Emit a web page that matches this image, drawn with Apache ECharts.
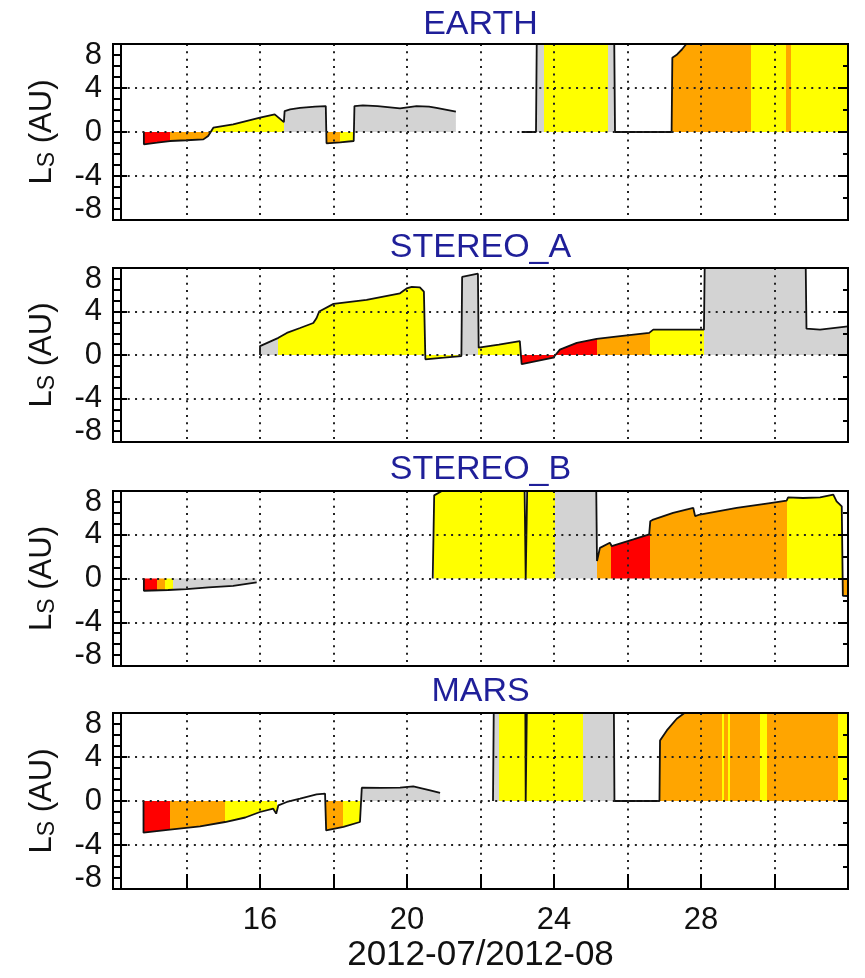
<!DOCTYPE html>
<html><head><meta charset="utf-8">
<script src="https://cdn.jsdelivr.net/npm/echarts@6/dist/echarts.min.js"></script>
<style>html,body{margin:0;padding:0;background:#fff}#c{width:865px;height:978px}</style>
</head><body><div id="c"></div>
<script>
// ---------------- data ----------------
const panelNames = ['EARTH', 'STEREO_A', 'STEREO_B', 'MARS'];
const xTickLabels = [16, 20, 24, 28];
const yTickLabels = [-8, -4, 0, 4, 8];
const xAxisTitle = '2012-07/2012-08';

// EARTH
const earthX = [12.84, 12.84, 13.2, 13.55, 14.0, 14.46, 14.59, 14.73, 15.27, 16.0, 16.4, 16.65, 16.67, 16.82, 17.09, 17.5, 17.79, 17.81, 18.18, 18.55, 18.57, 18.8, 19.2, 19.81, 20.26, 20.6, 20.8, 21.26, 21.33, 22.2, 23.12, 23.51, 23.53, 25.64, 25.66, 27.2, 27.22, 27.35, 27.48, 27.6, 32];
const earthY = [0, -1.12, -0.97, -0.82, -0.75, -0.67, -0.36, 0.39, 0.7, 1.3, 1.6, 0.9, 1.9, 2.06, 2.2, 2.3, 2.36, -1.03, -0.95, -0.82, 2.36, 2.42, 2.35, 2.15, 2.36, 2.3, 2.2, 1.9, 1.85, null, 0, 0, 8, 8, 0, 0, 6.75, 7.05, 7.5, 8, 8];
const earthEdges = [12, 13.55, 14.62, 16.66, 17.80, 18.18, 18.56, 23.73, 25.47, 25.65, 27.21, 29.36, 30.31, 30.45, 32];
const earthClass = ['red', 'orange', 'yellow', 'gray', 'orange', 'yellow', 'gray', 'yellow', 'gray', 'none', 'orange', 'yellow', 'orange', 'yellow'];

// STEREO_A
const staX = [16.0, 16.0, 16.5, 16.73, 17.09, 17.45, 17.54, 17.61, 18.0, 18.9, 19.81, 19.99, 20.13, 20.35, 20.46, 20.5, 20.52, 21.0, 21.48, 21.5, 21.93, 21.95, 22.5, 23.07, 23.12, 23.14, 23.98, 24.05, 24.16, 24.62, 25.16, 25.8, 26.59, 26.7, 28.08, 28.1, 30.85, 30.87, 31.24, 32];
const staY = [0, 0.82, 1.58, 2.03, 2.48, 2.94, 3.4, 4.0, 4.7, 5.06, 5.67, 6.12, 6.27, 6.21, 5.82, -0.4, -0.39, -0.25, -0.1, 7.18, 7.48, 0.67, 0.95, 1.27, -0.85, -0.85, -0.24, 0.05, 0.5, 1.12, 1.48, 1.73, 2.03, 2.33, 2.33, 8, 8, 2.42, 2.33, 2.64];
const staEdges = [12, 16.5, 21.49, 21.94, 23.11, 25.16, 26.6, 28.09, 32];
const staClass = ['gray', 'yellow', 'gray', 'yellow', 'red', 'orange', 'yellow', 'gray'];

// STEREO_B
const stbX = [12.84, 12.84, 13.5, 14.0, 14.6, 15.27, 15.91, 18.0, 20.7, 20.72, 20.74, 20.95, 23.2, 23.23, 23.25, 23.27, 25.15, 25.17, 25.21, 25.25, 25.52, 25.57, 26.16, 26.59, 26.62, 26.7, 27.24, 27.79, 27.82, 27.84, 27.97, 28.97, 29.88, 30.33, 30.37, 30.78, 31.24, 31.6, 31.69, 31.83, 31.86, 32];
const stbY = [0, -1.12, -1.05, -0.97, -0.82, -0.67, -0.36, null, 0, 0, 7.6, 8, 8, 0, 0, 8, 8, 1.6, 1.76, 2.8, 3.27, 2.97, 3.58, 4.03, 5.24, 5.39, 6.0, 6.45, 6.5, 5.7, 5.85, 6.45, 6.9, 7.12, 7.42, 7.36, 7.42, 7.67, 7.06, 6.6, -1.58, -1.6];
const stbEdges = [12, 13.19, 13.41, 13.64, 16.5, 20.73, 24.03, 25.16, 25.55, 26.61, 30.35, 31.855, 32];
const stbClass = ['red', 'orange', 'yellow', 'gray', 'none', 'yellow', 'gray', 'orange', 'red', 'orange', 'yellow', 'orange'];

// MARS
const marsX = [12.83, 12.83, 13.55, 14.37, 15.05, 15.6, 16.0, 16.36, 16.44, 16.5, 16.73, 17.09, 17.54, 17.77, 17.8, 18.27, 18.72, 18.77, 19.3, 19.81, 20.17, 20.63, 20.9, 21.5, 22.34, 22.36, 23.22, 23.23, 23.25, 23.26, 25.63, 25.645, 26.87, 26.885, 27.07, 27.34, 27.55, 32];
const marsY = [0, -2.88, -2.6, -2.3, -1.91, -1.5, -1.0, -0.7, -1.15, -0.39, -0.09, 0.21, 0.6, 0.67, -2.67, -2.36, -1.91, 1.21, 1.2, 1.21, 1.33, 0.97, 0.73, null, 0, 8, 8, 0, 0, 8, 8, 0, 0, 5.5, 6.42, 7.48, 8, 8];
const marsEdges = [12, 13.55, 15.05, 16.46, 17.79, 18.27, 18.75, 22.49, 24.8, 25.64, 26.88, 28.56, 28.63, 28.74, 28.79, 29.61, 29.79, 31.74, 32];
const marsClass = ['red', 'orange', 'yellow', 'none', 'orange', 'yellow', 'gray', 'yellow', 'gray', 'none', 'orange', 'yellow', 'orange', 'yellow', 'orange', 'yellow', 'orange', 'yellow'];

// ---------------- styling ----------------
const FONT = '"Liberation Sans", Arial, Helvetica, sans-serif';
const classColors = { red: '#ff0000', orange: '#ffa500', yellow: '#ffff00', gray: '#d3d3d3', none: 'rgba(255,255,255,0)' };
const GRID_TOP = [44, 268, 491, 713];
const GRID_H = [176, 174, 175, 176];
const TITLE_Y = [25, 248, 470, 692];
const DOT = { type: [2, 5.35], color: '#222', width: 2 };

const panels = [
  { x: earthX, y: earthY, edges: earthEdges, cls: earthClass },
  { x: staX, y: staY, edges: staEdges, cls: staClass },
  { x: stbX, y: stbY, edges: stbEdges, cls: stbClass },
  { x: marsX, y: marsY, edges: marsEdges, cls: marsClass }
];

const option = { animation: false, backgroundColor: '#fff', title: [], grid: [], xAxis: [], yAxis: [], series: [], visualMap: [] };

panels.forEach((p, i) => {
  const last = i === panels.length - 1;
  option.title.push({
    text: panelNames[i], left: 480.5, top: TITLE_Y[i], padding: 0,
    textAlign: 'center', textVerticalAlign: 'middle',
    textStyle: { fontSize: 34, fontWeight: 'normal', color: '#1f1f99', fontFamily: FONT }
  });
  option.grid.push({ left: 113, width: 735, top: GRID_TOP[i], height: GRID_H[i], show: true, borderColor: '#000', borderWidth: 2, z: 5 });
  option.xAxis.push({
    type: 'value', gridIndex: i, min: 12, max: 32, interval: 2, z: 3,
    axisLine: { show: true, onZero: false, lineStyle: { color: '#000', width: 2 } },
    axisTick: { show: last, inside: true, length: 15, lineStyle: { color: '#000', width: 2 } },
    axisLabel: { show: last, margin: 16, fontSize: 31, color: '#111', fontFamily: FONT,
      formatter: v => (xTickLabels.indexOf(v) >= 0 ? String(v) : '') },
    splitLine: { show: true, lineStyle: DOT },
    name: last ? xAxisTitle : '', nameLocation: 'middle', nameGap: 49,
    nameTextStyle: { fontSize: 35, color: '#111', fontFamily: FONT }
  });
  option.yAxis.push({
    type: 'value', gridIndex: i, min: -8, max: 8, interval: 4, position: 'left', z: 3,
    axisLine: { show: true, onZero: false, lineStyle: { color: '#000', width: 2 } },
    axisTick: { show: true, inside: true, length: 14, lineStyle: { color: '#000', width: 2 } },
    minorTick: { show: true, splitNumber: 4, length: 8, lineStyle: { color: '#000', width: 2 } },
    axisLabel: { margin: 11, fontSize: 31, lineHeight: 22, color: '#111', fontFamily: FONT,
      showMinLabel: true, showMaxLabel: true, hideOverlap: false, interval: 0,
      verticalAlignMaxLabel: 'top', verticalAlignMinLabel: 'bottom',
      formatter: v => (yTickLabels.indexOf(v) >= 0 ? String(v) : '') },
    splitLine: { show: true, lineStyle: DOT },
    name: 'L{s|S} (AU)', nameLocation: 'middle', nameRotate: 90, nameGap: 54,
    nameTextStyle: { fontSize: 31, color: '#111', fontFamily: FONT,
      rich: { s: { fontSize: 23, color: '#111', fontFamily: FONT, padding: [10, 0, 0, 0] } } }
  });
  option.yAxis.push({
    type: 'value', gridIndex: i, min: -8, max: 8, position: 'left', offset: -8, z: 3,
    axisLine: { show: true, onZero: false, lineStyle: { color: '#000', width: 2 } },
    axisTick: { show: false }, axisLabel: { show: false }, splitLine: { show: false }
  });
  option.yAxis.push({
    type: 'value', gridIndex: i, min: -8, max: 8, interval: 4, position: 'right', z: 3,
    axisLine: { show: true, onZero: false, lineStyle: { color: '#000', width: 2 } },
    axisTick: { show: true, inside: true, length: 10, lineStyle: { color: '#000', width: 2 } },
    minorTick: { show: true, splitNumber: 2, length: 5, lineStyle: { color: '#000', width: 2 } },
    axisLabel: { show: false }, splitLine: { show: false }
  });
  option.series.push({
    type: 'line', xAxisIndex: i, yAxisIndex: 3 * i, z: 2,
    data: p.x.map((x, k) => [x, p.y[k] === null ? '-' : p.y[k]]),
    symbol: 'none', showSymbol: false, connectNulls: false,
    lineStyle: { color: '#111', width: 1.8 },
    areaStyle: { opacity: 1 }
  });
  option.visualMap.push({
    type: 'piecewise', show: false, seriesIndex: i, dimension: 0,
    pieces: p.cls.map((c, k) => ({ min: p.edges[k], max: p.edges[k + 1], color: classColors[c] })),
    outOfRange: { color: 'rgba(255,255,255,0)' }
  });
});

const chart = echarts.init(document.getElementById('c'), null, { renderer: 'canvas', width: 865, height: 978 });
chart.setOption(option);
</script>
</body></html>
